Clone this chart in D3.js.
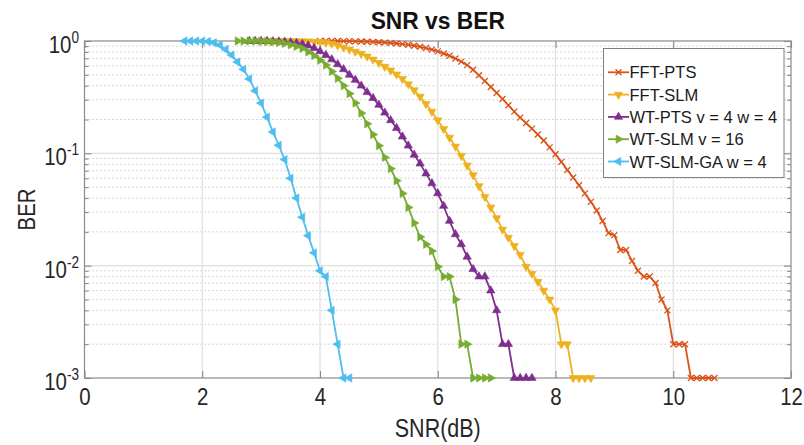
<!DOCTYPE html>
<html>
<head>
<meta charset="utf-8">
<script src="https://cdn.jsdelivr.net/npm/d3@7"></script>
<style>
  html, body { margin: 0; padding: 0; background: #ffffff; }
  svg { display: block; font-family: "Liberation Sans", Arial, Helvetica, sans-serif; }
</style>
</head>
<body>
<svg id="chart" width="804" height="445"></svg>
<script>
// ---- Axis ticks and labels ----
const xTicks = [0, 2, 4, 6, 8, 10, 12];
const yExponents = [0, -1, -2, -3];
const seriesNames = ["FFT-PTS", "FFT-SLM", "WT-PTS v = 4 w = 4", "WT-SLM v = 16", "WT-SLM-GA w = 4"];

// ---- Measured BER curves (SNR in dB) ----
const snrFftPts = [4.0,4.1,4.2,4.3,4.4,4.5,4.6,4.7,4.8,4.9,5.0,5.1,5.2,5.3,5.4,5.5,5.6,5.7,5.8,5.9,
  6.0,6.1,6.2,6.3,6.4,6.5,6.6,6.7,6.8,6.9,7.0,7.1,7.2,7.3,7.4,7.5,7.6,7.7,7.8,7.9,
  8.0,8.1,8.2,8.3,8.4,8.5,8.6,8.7,8.8,8.9,9.0,9.1,9.2,9.3,9.4,9.5,9.6,9.7,9.8,9.9,
  10.0,10.1,10.2,10.3,10.4,10.5,10.6,10.7];
const berFftPts = [1.0,1.0,1.0,0.999,0.998,0.996,0.993,0.99,0.986,0.981,0.975,0.968,0.96,0.95,0.938,0.925,0.908,0.888,0.865,0.838,
  0.808,0.775,0.738,0.698,0.655,0.61,0.555,0.495,0.44,0.39,0.345,0.305,0.268,0.235,0.208,0.186,0.166,0.147,0.13,0.113,
  0.098,0.084,0.071,0.061,0.052,0.044,0.037,0.031,0.025,0.0195,0.0187,0.0138,0.0138,0.011,0.009,0.008,0.008,0.007,0.005,0.004,
  0.002,0.002,0.002,0.001,0.001,0.001,0.001,0.001];

const snrFftSlm = [3.0,3.1,3.2,3.3,3.4,3.5,3.6,3.7,3.8,3.9,4.0,4.1,4.2,4.3,4.4,4.5,4.6,4.7,4.8,4.9,
  5.0,5.1,5.2,5.3,5.4,5.5,5.6,5.7,5.8,5.9,6.0,6.1,6.2,6.3,6.4,6.5,6.6,6.7,6.8,6.9,
  7.0,7.1,7.2,7.3,7.4,7.5,7.6,7.7,7.8,7.9,8.0,8.1,8.2,8.3,8.4,8.5,8.6];
const berFftSlm = [1.0,1.0,1.0,1.0,0.999,0.998,0.997,0.995,0.992,0.988,0.982,0.968,0.948,0.915,0.878,0.84,0.805,0.77,0.73,0.685,
  0.64,0.592,0.548,0.505,0.46,0.412,0.365,0.32,0.275,0.235,0.197,0.165,0.138,0.115,0.095,0.078,0.064,0.051,0.041,0.033,
  0.0265,0.021,0.0178,0.015,0.0125,0.0098,0.0085,0.0072,0.006,0.005,0.004,0.002,0.002,0.001,0.001,0.001,0.001];

const snrWtPts = [2.8,2.9,3.0,3.1,3.2,3.3,3.4,3.5,3.6,3.7,3.8,3.9,4.0,4.1,4.2,4.3,4.4,4.5,4.6,4.7,
  4.8,4.9,5.0,5.1,5.2,5.3,5.4,5.5,5.6,5.7,5.8,5.9,6.0,6.1,6.2,6.3,6.4,6.5,6.6,6.7,
  6.8,6.9,7.0,7.1,7.2,7.3,7.4,7.5,7.6];
const berWtPts = [1.0,1.0,1.0,0.997,0.994,0.99,0.983,0.973,0.96,0.94,0.91,0.865,0.81,0.75,0.685,0.62,0.56,0.5,0.45,0.4,
  0.35,0.31,0.27,0.23,0.197,0.168,0.141,0.117,0.097,0.081,0.066,0.054,0.044,0.034,0.025,0.019,0.0155,0.012,0.0093,0.008,
  0.008,0.006,0.004,0.002,0.002,0.001,0.001,0.001,0.001];

const snrWtSlm = [2.6,2.7,2.8,2.9,3.0,3.1,3.2,3.3,3.4,3.5,3.6,3.7,3.8,3.9,4.0,4.1,4.2,4.3,4.4,4.5,
  4.6,4.7,4.8,4.9,5.0,5.1,5.2,5.3,5.4,5.5,5.6,5.7,5.8,5.9,6.0,6.1,6.2,6.3,6.4,6.5,
  6.6,6.7,6.8,6.9];
const berWtSlm = [1.0,1.0,1.0,0.998,0.995,0.99,0.982,0.97,0.952,0.925,0.895,0.86,0.8,0.74,0.675,0.61,0.535,0.465,0.4,0.34,
  0.28,0.228,0.183,0.147,0.117,0.092,0.073,0.057,0.044,0.033,0.024,0.018,0.0155,0.0135,0.0098,0.008,0.008,0.005,0.002,0.002,
  0.001,0.001,0.001,0.001];

const snrWtSlmGa = [1.7,1.8,1.9,2.0,2.1,2.2,2.3,2.4,2.5,2.6,2.7,2.8,2.9,3.0,3.1,3.2,3.3,3.4,3.5,3.6,
  3.7,3.8,3.9,4.0,4.1,4.2,4.3,4.4,4.5];
const berWtSlmGa = [1.0,1.0,1.0,0.998,0.99,0.965,0.92,0.84,0.75,0.65,0.56,0.46,0.36,0.28,0.21,0.155,0.118,0.088,0.06,0.04,
  0.027,0.0185,0.013,0.009,0.008,0.004,0.002,0.001,0.001];

// ---- Layout and styling ----
const plot = { left: 84.5, right: 791, top: 41, bottom: 378 };
const axisColor = "#8a8a8a";
const textColor = "#262626";
const narrow = 0.85;           // horizontal squeeze used by the axis fonts
const seriesStyle = [
  { color: "#D95319", marker: "x" },
  { color: "#EDB120", marker: "down" },
  { color: "#7E2F8E", marker: "up" },
  { color: "#77AC30", marker: "right" },
  { color: "#4DBEEE", marker: "left" }
];
const seriesData = [
  d3.zip(snrFftPts, berFftPts),
  d3.zip(snrFftSlm, berFftSlm),
  d3.zip(snrWtPts, berWtPts),
  d3.zip(snrWtSlm, berWtSlm),
  d3.zip(snrWtSlmGa, berWtSlmGa)
];

const svg = d3.select("#chart");
const x = d3.scaleLinear().domain([0, 12]).range([plot.left, plot.right]);
const y = d3.scaleLog().domain([1e-3, 1]).range([plot.bottom, plot.top]);

const majorY = yExponents.map(e => Math.pow(10, e));
const minorY = [];
[-3, -2, -1].forEach(e => { for (let m = 2; m <= 9; m++) minorY.push(m * Math.pow(10, e)); });

// ---- Grid ----
const grid = svg.append("g");
grid.selectAll("line.minor").data(minorY).join("line")
  .attr("x1", plot.left).attr("x2", plot.right)
  .attr("y1", d => y(d)).attr("y2", d => y(d))
  .attr("stroke", "#c9c9c9").attr("stroke-width", 1).attr("stroke-dasharray", "1.5,2.5");
grid.selectAll("line.hmajor").data(majorY.filter(v => v < 1 && v > 1e-3)).join("line")
  .attr("x1", plot.left).attr("x2", plot.right)
  .attr("y1", d => y(d)).attr("y2", d => y(d))
  .attr("stroke", "#e0e0e0").attr("stroke-width", 1.2);
grid.selectAll("line.vmajor").data(xTicks.filter(v => v > 0 && v < 12)).join("line")
  .attr("x1", d => x(d)).attr("x2", d => x(d))
  .attr("y1", plot.top).attr("y2", plot.bottom)
  .attr("stroke", "#e0e0e0").attr("stroke-width", 1.2);

// ---- Axes (inward ticks on all four sides) ----
function styleAxis(g) {
  g.select(".domain").remove();
  g.selectAll(".tick line").attr("stroke", axisColor).attr("stroke-width", 1.1);
}
const bottomAxis = svg.append("g")
  .attr("transform", `translate(0,${plot.bottom})`)
  .call(d3.axisBottom(x).tickValues(xTicks).tickSizeInner(-7).tickSizeOuter(0).tickPadding(0))
  .call(styleAxis);
bottomAxis.attr("font-size", null).attr("font-family", null);
bottomAxis.selectAll(".tick text")
  .attr("y", 27).attr("dy", null)
  .attr("transform", `scale(${narrow},1)`)
  .attr("font-size", 24).attr("fill", textColor);

svg.append("g").attr("transform", `translate(0,${plot.top})`)
  .call(d3.axisTop(x).tickValues(xTicks).tickSizeInner(-7).tickSizeOuter(0).tickFormat(""))
  .call(styleAxis);
svg.append("g").attr("transform", `translate(${plot.left},0)`)
  .call(d3.axisLeft(y).tickValues(majorY).tickSizeInner(-7).tickSizeOuter(0).tickFormat(""))
  .call(styleAxis);
svg.append("g").attr("transform", `translate(${plot.left},0)`)
  .call(d3.axisLeft(y).tickValues(minorY).tickSizeInner(-4).tickSizeOuter(0).tickFormat(""))
  .call(styleAxis);
svg.append("g").attr("transform", `translate(${plot.right},0)`)
  .call(d3.axisRight(y).tickValues(majorY).tickSizeInner(-7).tickSizeOuter(0).tickFormat(""))
  .call(styleAxis);
svg.append("g").attr("transform", `translate(${plot.right},0)`)
  .call(d3.axisRight(y).tickValues(minorY).tickSizeInner(-4).tickSizeOuter(0).tickFormat(""))
  .call(styleAxis);

svg.append("rect")
  .attr("x", plot.left).attr("y", plot.top)
  .attr("width", plot.right - plot.left).attr("height", plot.bottom - plot.top)
  .attr("fill", "none").attr("stroke", axisColor).attr("stroke-width", 1.2);

// Log-axis labels written as 10 with a superscript exponent
const yLabels = svg.append("g").selectAll("text").data(yExponents).join("text")
  .attr("transform", e => `translate(79,${y(Math.pow(10, e)) + 12}) scale(${narrow},1)`)
  .attr("text-anchor", "end").attr("fill", textColor);
yLabels.append("tspan").attr("font-size", 24).text("10");
yLabels.append("tspan").attr("font-size", 16).attr("dy", -10).text(e => String(e));

// ---- Titles ----
svg.append("text")
  .attr("transform", `translate(${(plot.left + plot.right) / 2},29) scale(0.95,1)`)
  .attr("text-anchor", "middle").attr("font-size", 24).attr("font-weight", "bold")
  .attr("fill", "#111").text("SNR vs BER");
svg.append("text")
  .attr("transform", `translate(${(plot.left + plot.right) / 2},437) scale(0.86,1)`)
  .attr("text-anchor", "middle").attr("font-size", 25).attr("fill", textColor)
  .text("SNR(dB)");
svg.append("text")
  .attr("transform", `translate(35,${(plot.top + plot.bottom) / 2}) rotate(-90) scale(${narrow},1)`)
  .attr("text-anchor", "middle").attr("font-size", 24).attr("fill", textColor)
  .text("BER");

// ---- Markers ----
const triPath = d3.symbol(d3.symbolTriangle, 30)();
const rotation = { up: 0, right: 90, down: 180, left: -90 };
function drawMarkers(sel, style) {
  if (style.marker === "x") {
    sel.attr("d", "M-3,-3L3,3M-3,3L3,-3")
      .attr("fill", "none").attr("stroke", style.color).attr("stroke-width", 1.3);
  } else {
    sel.attr("d", triPath)
      .attr("fill", style.color).attr("stroke", style.color).attr("stroke-width", 0.6)
      .attr("stroke-linejoin", "round");
  }
}
function markerTransform(px, py, style) {
  const r = style.marker === "x" ? 0 : rotation[style.marker];
  return `translate(${px},${py}) rotate(${r})`;
}

// ---- Curves ----
const line = d3.line().x(d => x(d[0])).y(d => y(d[1]));
const curves = svg.append("g");
seriesData.forEach((data, i) => {
  const style = seriesStyle[i];
  const g = curves.append("g");
  g.append("path").datum(data).attr("d", line)
    .attr("fill", "none").attr("stroke", style.color).attr("stroke-width", 1.8)
    .attr("stroke-linejoin", "round");
  g.selectAll("path.mk").data(data).join("path").attr("class", "mk")
    .attr("transform", d => markerTransform(x(d[0]), y(d[1]), style))
    .call(drawMarkers, style);
});

// ---- Legend ----
const legend = svg.append("g");
legend.append("rect")
  .attr("x", 603.5).attr("y", 48.5).attr("width", 180.5).attr("height", 129)
  .attr("fill", "#ffffff").attr("stroke", "#7f7f7f").attr("stroke-width", 1);
const rows = legend.selectAll("g.row").data(seriesNames).join("g")
  .attr("class", "row")
  .attr("transform", (d, i) => `translate(0,${72.3 + i * 22.3})`);
rows.append("line")
  .attr("x1", 608).attr("x2", 629).attr("y1", 0).attr("y2", 0)
  .attr("stroke", (d, i) => seriesStyle[i].color).attr("stroke-width", 1.8);
rows.append("path")
  .attr("transform", (d, i) => markerTransform(618.5, 0, seriesStyle[i]))
  .each(function (d, i) { d3.select(this).call(drawMarkers, seriesStyle[i]); });
rows.append("text")
  .attr("x", 629.5).attr("y", 6)
  .attr("font-size", 16.5).attr("fill", "#1a1a1a")
  .text(d => d);
</script>
</body>
</html>
